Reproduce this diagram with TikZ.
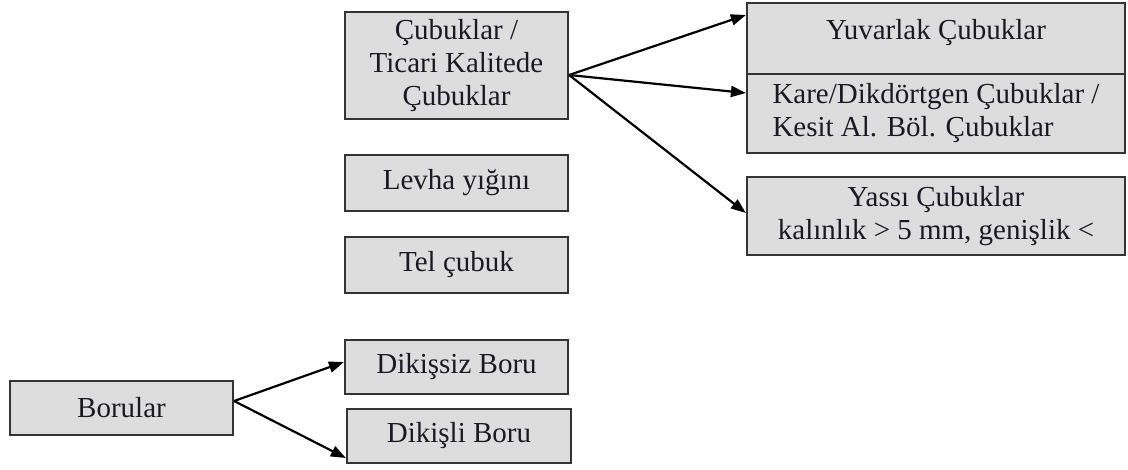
\documentclass[tikz,border=0pt]{standalone}
\usepackage{fontspec}
\setmainfont{Liberation Serif}
\usetikzlibrary{arrows.meta}
\definecolor{boxfill}{HTML}{DDDDDD}
\definecolor{boxline}{HTML}{333333}
\definecolor{boxtext}{HTML}{1A1A22}
\tikzset{
	kutu/.style={draw=boxline, line width=2.2pt, fill=boxfill, inner sep=0pt, align=center,
		font=\fontsize{29}{33}\selectfont, text=boxtext},
	ok/.style={line width=2.2pt, -{Triangle[length=15pt,width=11pt]}}
}
\begin{document}
\begin{tikzpicture}[x=1pt,y=-1pt]
			\useasboundingbox (0,0) rectangle (1128,469);
			\node[kutu, minimum width=223pt, minimum height=107pt] (cub) at (456.5,65.5) {Çubuklar /\\Ticari Kalitede\\Çubuklar};
			\node[kutu, minimum width=223pt, minimum height=56pt] (lev) at (456.5,183) {Levha yığını};
			\node[kutu, minimum width=223pt, minimum height=56pt] (tel) at (456.5,265) {Tel çubuk};
			\node[kutu, minimum width=378pt, minimum height=71pt] (yuv) at (936,38.5) {Yuvarlak Çubuklar\\[-14pt]\mbox{}};
			\node[kutu, minimum width=378pt, minimum height=79pt, align=left] (kare) at (936,113.5) {Kare/Dikdörtgen Çubuklar /\\Kesit Al. Böl. Çubuklar};
			\node[kutu, minimum width=378pt, minimum height=78pt] (yas) at (936,216) {Yassı Çubuklar\\kalınlık > 5 mm, genişlik <};
			\node[kutu, minimum width=223pt, minimum height=54pt] (bor) at (121.5,408) {Borular};
			\node[kutu, minimum width=223pt, minimum height=54pt] (dsz) at (456.5,367) {Dikişsiz Boru};
			\node[kutu, minimum width=224pt, minimum height=54pt] (dsl) at (459,436) {Dikişli Boru};
			\draw[ok] ([yshift=-9.5pt]cub.east) -- ([yshift=23.5pt]yuv.west);
			\draw[ok] ([yshift=-9.5pt]cub.east) -- ([yshift=20.5pt]kare.west);
			\draw[ok] ([yshift=-9.5pt]cub.east) -- ([yshift=3pt]yas.west);
			\draw[ok] ([yshift=7pt]bor.east) -- ([yshift=5pt]dsz.west);
			\draw[ok] ([yshift=7pt]bor.east) -- ([yshift=-22pt]dsl.west);
		\end{tikzpicture}
\end{document}
